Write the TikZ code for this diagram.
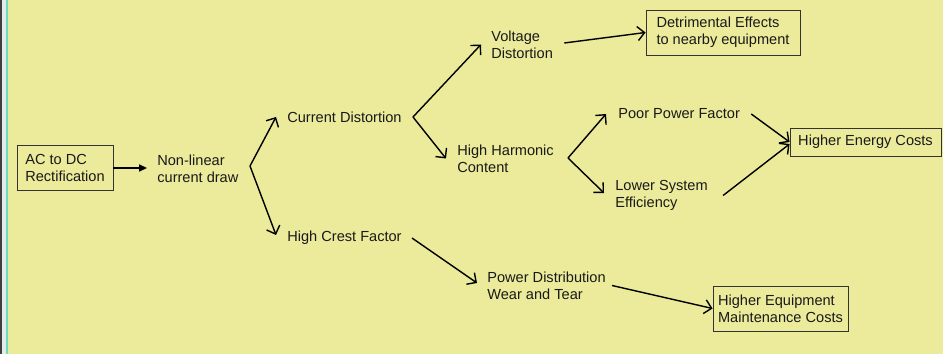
\documentclass[tikz,border=0pt]{standalone}
\usepackage{fontspec}
\setmainfont{Liberation Sans}
\usetikzlibrary{positioning, arrows.meta, calc}

\definecolor{pageyellow}{RGB}{235,235,155}
\definecolor{rimcyan}{RGB}{110,220,195}
\definecolor{rimgray}{RGB}{64,64,64}
\definecolor{rimpale}{RGB}{225,238,232}

\begin{document}
\begin{tikzpicture}[x=0.02cm, y=-0.02cm,
	every node/.style={font=\fontsize{8.3pt}{9.7pt}\selectfont, text=black!90},
	lbl/.style={anchor=west, align=left, inner sep=0pt},
	box/.style={draw=black!80, line width=0.5pt, align=left, inner sep=0pt},
	arr/.style={-{Straight Barb[length=4pt, width=8pt, line width=0.8pt]}, line width=0.8pt},
	solidarr/.style={-{Triangle[length=4.5pt, width=4pt]}, line width=0.8pt}]
	% ---- page ----
	\useasboundingbox (0,0) rectangle (943,354);
	\fill[pageyellow] (0,0) rectangle (943,354);
	\fill[rimgray] (0,0) rectangle (1.7,354);
	\fill[rimpale] (1.7,0) rectangle (5.7,354);
	\fill[rimcyan] (5.7,0) rectangle (8,354);
	% ---- causes ----
	\node[box, minimum width=1.92cm, minimum height=0.9cm] (ac) at (65,168) {AC to DC\\Rectification};
	\node[lbl] (nl) at (157,168.5) {Non-linear\\current draw};
	\node[lbl] (cd) at (287,117) {Current Distortion};
	\node[lbl] (hcf) at (287,238) {High Crest Factor};
	\node[lbl] (vd) at (491,44.5) {Voltage\\Distortion};
	\node[lbl] (hhc) at (457,158.5) {High Harmonic\\Content};
	\node[lbl] (ppf) at (618,114) {Poor Power Factor};
	\node[lbl] (lse) at (615,195.5) {Lower System\\Efficiency};
	\node[lbl] (pdw) at (487,285.5) {Power Distribution\\Wear and Tear};
	% ---- effects ----
	\node[box, minimum width=3.08cm, minimum height=0.9cm] (det) at (723,32.5) {Detrimental Effects\\to nearby equipment};
	\node[box, minimum width=3.02cm, minimum height=0.56cm] (hec) at (865.5,142) {Higher Energy Costs};
	\node[box, minimum width=2.7cm, minimum height=0.9cm] (hem) at (780.5,308.5) {Higher Equipment\\Maintenance Costs};
	% ---- forks ----
	\coordinate (f1) at (250,166);
	\coordinate (f2) at (413,117);
	\coordinate (f3) at (568,158);
	% ---- connectors ----
	\draw[solidarr, shorten >=0.2cm] (ac.east) -- (ac.east -| nl.west);
	\draw[arr] (f1) -- ([xshift=-0.22cm]cd.west);
	\draw[arr] (f1) -- ([xshift=-0.22cm, yshift=0.06cm]hcf.west);
	\draw[arr] (f2) -- ([xshift=-0.2cm]vd.west);
	\draw[arr] (f2) -- ([xshift=-0.22cm]hhc.west);
	\draw[arr] (f3) -- ([xshift=-0.24cm]ppf.west);
	\draw[arr] (f3) -- ([xshift=-0.22cm, yshift=0.05cm]lse.west);
	\draw[arr] ([xshift=0.22cm, yshift=0.03cm]vd.east) -- (det.west);
	\draw[arr] ([xshift=0.22cm]ppf.east) -- (hec.west);
	\draw[arr] ([xshift=0.3cm]lse.east) -- ([yshift=-0.04cm]hec.west);
	\draw[arr] ([xshift=0.2cm]hcf.east) -- ([xshift=-0.2cm, yshift=0.05cm]pdw.west);
	\draw[arr] ([xshift=0.12cm]pdw.east) -- (hem.west);
\end{tikzpicture}
\end{document}
